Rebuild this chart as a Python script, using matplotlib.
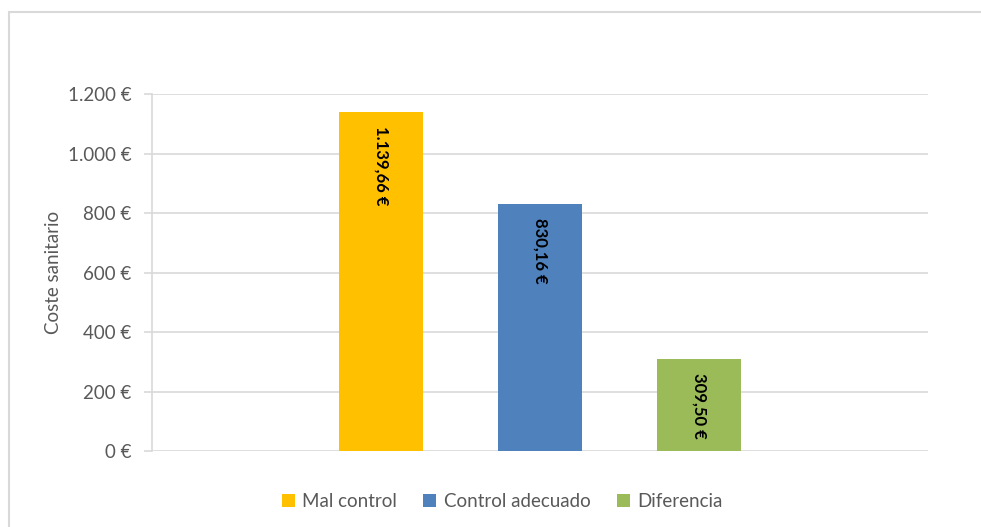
import matplotlib
matplotlib.use('Agg')
import matplotlib.pyplot as plt
from matplotlib.patches import Rectangle

series = ['Mal control', 'Control adecuado', 'Diferencia']
values = [1139.66, 830.16, 309.50]
labels = ['1.139,66 €', '830,16 €', '309,50 €']
colors = ['#FFC000', '#4F81BD', '#9BBB59']
yticks = [0, 200, 400, 600, 800, 1000, 1200]
ytick_labels = ['0 €', '200 €', '400 €', '600 €', '800 €', '1.000 €', '1.200 €']

plt.rcParams['font.family'] = ['Lato', 'DejaVu Sans']

fig = plt.figure(figsize=(9.81, 5.27), dpi=100)
ax = fig.add_axes([0.155, 0.1442, 0.791, 0.6774])

# outer chart border like excel
fig.patches.append(Rectangle((9/981, -0.05), 1.2, 0.05 + (527-12)/527, transform=fig.transFigure,
                             fill=False, edgecolor='#D9D9D9', linewidth=1.5))

xs = range(len(series))
for x, v, c, s in zip(xs, values, colors, series):
    ax.bar(x, v, width=0.528, color=c, label=s, zorder=3)

for x, v, t in zip(xs, values, labels):
    ax.annotate(t, (x, v), xytext=(0, -10), textcoords='offset points',
                rotation=-90, ha='center', va='top', fontsize=12,
                fontweight='bold', color='black', zorder=4)

ax.set_xlim(-1.44, 3.44)
ax.set_ylim(0, 1200)
ax.set_yticks(yticks)
ax.set_yticklabels(ytick_labels, fontsize=13.5, color='#595959')
ax.set_xticks([])
ax.grid(axis='y', color='#D9D9D9', linewidth=1.2, zorder=0)
for side in ['top', 'right', 'bottom']:
    ax.spines[side].set_visible(False)
ax.spines['left'].set_color('#D9D9D9')
ax.spines['left'].set_linewidth(1.2)
ax.tick_params(axis='y', length=6, color='#D9D9D9', width=1.2, pad=9)
ax.set_ylabel('Coste sanitario', fontsize=13.5, color='#595959', labelpad=4)

fig.legend(loc='center', bbox_to_anchor=(0.512, 0.048), ncol=3, frameon=False,
           fontsize=13.5, handlelength=0.7, handleheight=0.7, columnspacing=1.4,
           handletextpad=0.4, labelcolor='#595959')

fig.savefig('out.png', dpi=100)
